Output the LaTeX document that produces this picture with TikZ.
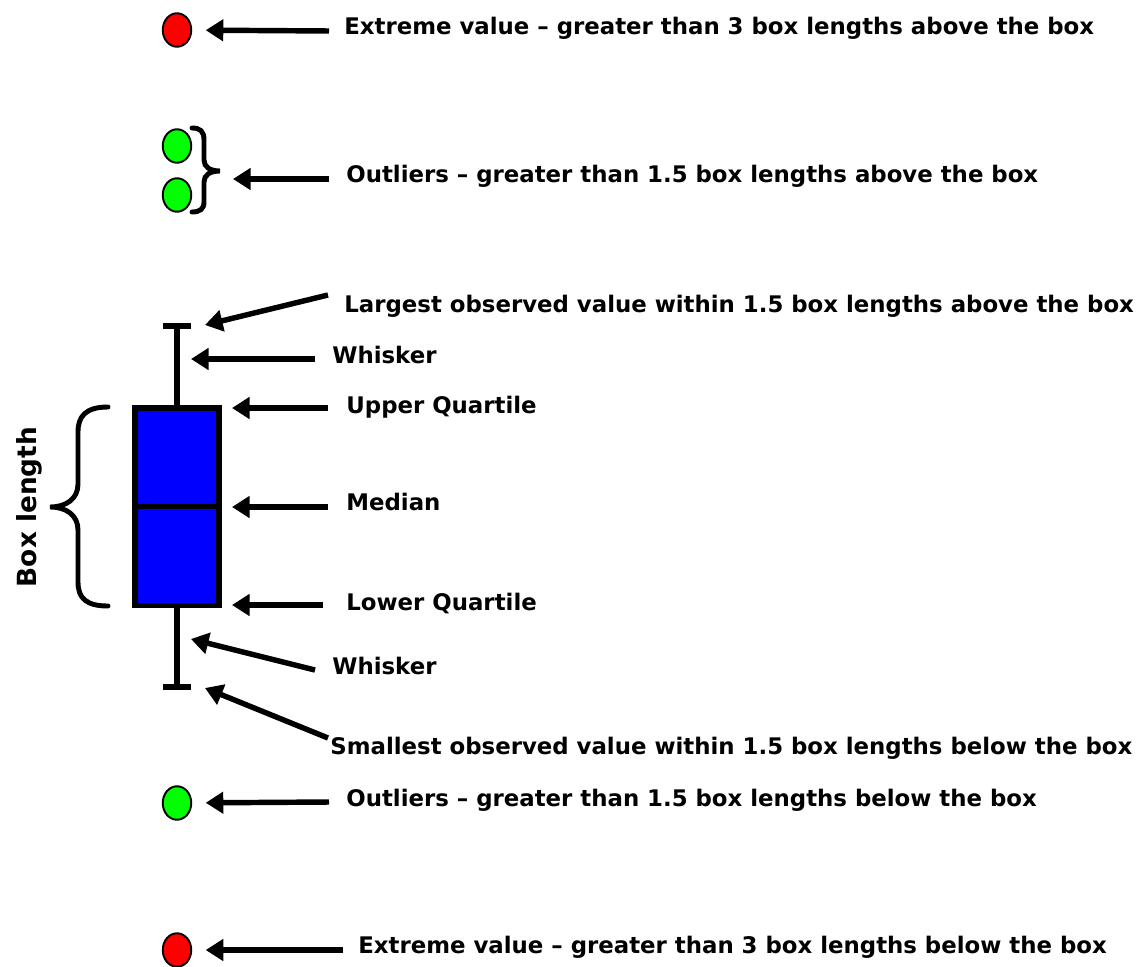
\documentclass[tikz,border=0pt]{standalone}
\usepackage{fontspec}
\usepackage{tikz}
\usetikzlibrary{arrows.meta,shapes.geometric}
\newfontfamily\labfont{DejaVu Sans}

\begin{document}
\begin{tikzpicture}[auto, x=0.02cm, y=-0.02cm,
	pointer/.style={line width=3.1pt, -{Triangle[length=10pt, width=12pt]}},
	dot/.style={ellipse, draw, line width=1.1pt, minimum width=0.57cm, minimum height=0.67cm, inner sep=0pt},
	whisk/.style={line width=3.4pt},
	curly/.style={line width=2.8pt, line cap=round},
	lab/.style={anchor=base west, inner sep=0pt, font=\labfont\bfseries\fontsize{13}{15}\selectfont}]
	\useasboundingbox (0, 0) rectangle (1138, 966);

	% outliers and extremes
	\node [dot, fill=red] (extup) at (177, 30) {};
	\node [dot, fill=green] (outup1) at (177, 146) {};
	\node [dot, fill=green] (outup2) at (177, 195) {};
	\node [dot, fill=green] (outlow) at (177, 803) {};
	\node [dot, fill=red] (extlow) at (177, 950) {};

	% the box
	\node [draw, fill=blue, line width=3.4pt, minimum width=1.68cm, minimum height=3.96cm, inner sep=0pt] (box) at (177, 506.5) {};
	\draw [line width=3.4pt] (box.west) -- (box.east);
	\coordinate (hitop) at (177, 326);
	\coordinate (hilow) at (177, 687);
	\coordinate (captop1) at (163, 326);
	\coordinate (captop2) at (191, 326);
	\coordinate (caplow1) at (163, 687);
	\coordinate (caplow2) at (191, 687);
	\draw [whisk] (box.north) -- (hitop);
	\draw [whisk] (box.south) -- (hilow);
	\draw [whisk] (captop1) -- (captop2);
	\draw [whisk] (caplow1) -- (caplow2);

	% braces
	\draw [curly] (192, 128) .. controls (200, 128) and (204, 131) .. (204, 140) -- (204, 160)
		.. controls (204, 167) and (210, 171) .. (220, 171)
		.. controls (210, 171) and (204, 175) .. (204, 182) -- (204, 202)
		.. controls (204, 209) and (200, 212) .. (192, 212);
	\draw [curly] (108, 407) .. controls (86, 407) and (78, 416) .. (78, 432) -- (78, 484)
		.. controls (78, 499) and (66, 507) .. (50, 507)
		.. controls (66, 507) and (78, 515) .. (78, 530) -- (78, 582)
		.. controls (78, 598) and (86, 606) .. (108, 606);
	\node [rotate=90, anchor=base, inner sep=0pt, font=\labfont\bfseries\fontsize{15}{17}\selectfont] (boxlen) at (36, 507) {Box length};

	% labels
	\node [lab] (extuplab) at (344, 35) {Extreme value – greater than 3 box lengths above the box};
	\node [lab] (outuplab) at (346, 183) {Outliers – greater than 1.5 box lengths above the box};
	\node [lab] (largelab) at (344, 312) {Largest observed value within 1.5 box lengths above the box};
	\node [lab] (whisk1lab) at (332, 363) {Whisker};
	\node [lab] (uqlab) at (346, 413) {Upper Quartile};
	\node [lab] (medlab) at (346, 510) {Median};
	\node [lab] (lqlab) at (346, 610) {Lower Quartile};
	\node [lab] (whisk2lab) at (332, 674) {Whisker};
	\node [lab] (smalllab) at (330, 754) {Smallest observed value within 1.5 box lengths below the box};
	\node [lab] (outlowlab) at (346, 806) {Outliers – greater than 1.5 box lengths below the box};
	\node [lab] (extlowlab) at (358, 953) {Extreme value – greater than 3 box lengths below the box};

	% arrow ends
	\coordinate (a1) at (329, 31);
	\coordinate (a2) at (329, 179);
	\coordinate (t2) at (233, 179);
	\coordinate (a3) at (328, 295);
	\coordinate (t3) at (205, 325);
	\coordinate (a4) at (315, 359);
	\coordinate (t4) at (191, 359);
	\coordinate (a5) at (328, 408);
	\coordinate (t5) at (232, 408);
	\coordinate (a6) at (328, 507);
	\coordinate (t6) at (232, 507);
	\coordinate (a7) at (323, 605);
	\coordinate (t7) at (232, 605);
	\coordinate (a8) at (315, 670);
	\coordinate (t8) at (191, 639);
	\coordinate (a9) at (328, 738);
	\coordinate (t9) at (205, 688);
	\coordinate (a10) at (329, 802);
	\coordinate (a11) at (343, 950);

	\draw [pointer, shorten >=0.27cm] (a1) to (extup);
	\draw [pointer] (a2) to (t2);
	\draw [pointer] (a3) to (t3);
	\draw [pointer] (a4) to (t4);
	\draw [pointer] (a5) to (t5);
	\draw [pointer] (a6) to (t6);
	\draw [pointer] (a7) to (t7);
	\draw [pointer] (a8) to (t8);
	\draw [pointer] (a9) to (t9);
	\draw [pointer, shorten >=0.27cm] (a10) to (outlow);
	\draw [pointer, shorten >=0.27cm] (a11) to (extlow);
\end{tikzpicture}
\end{document}
